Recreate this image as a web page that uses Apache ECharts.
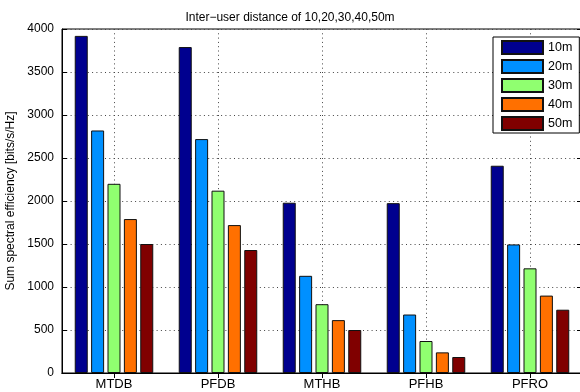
<!DOCTYPE html>
<html>
<head>
<meta charset="utf-8">
<script src="https://cdn.jsdelivr.net/npm/echarts@6/dist/echarts.min.js"></script>
<style>
  html, body { margin: 0; padding: 0; background: #fff; }
  #chart { width: 580px; height: 392px; }
</style>
</head>
<body>
<div id="chart"></div>
<script>
// Beamforming schemes on the x axis
const categories = ['MTDB', 'PFDB', 'MTHB', 'PFHB', 'PFRO'];
// Sum spectral efficiency [bits/s/Hz] per inter-user distance
const names = ['10m', '20m', '30m', '40m', '50m'];
const d10 = [3920, 3790, 1980, 1975, 2410];
const d20 = [2820, 2720, 1130, 680, 1495];
const d30 = [2200, 2120, 800, 372, 1217];
const d40 = [1790, 1720, 615, 240, 900];
const d50 = [1500, 1430, 500, 186, 736];
const yTicks = [0, 500, 1000, 1500, 2000, 2500, 3000, 3500, 4000];

const colors = ['#00008f', '#0090ff', '#90ff70', '#ff7000', '#800000'];
const values = [d10, d20, d30, d40, d50];
const font = 'Liberation Sans, Arial, Helvetica, sans-serif';

const dotted = { color: '#444', width: 1, type: [1, 3.3] };

const chart = echarts.init(document.getElementById('chart'), null, { renderer: 'canvas' });

const series = names.map((n, i) => ({
  name: n,
  type: 'bar',
  data: values[i],
  barWidth: 13,
  barGap: '26%',
  itemStyle: { color: colors[i], borderColor: '#111', borderWidth: 1 },
  z: 3
}));

chart.setOption({
  animation: false,
  backgroundColor: '#fff',
  title: {
    text: 'Inter\u2212user distance of 10,20,30,40,50m',
    left: 'center',
    top: 7,
    textStyle: { fontFamily: font, fontSize: 12, fontWeight: 'normal', color: '#000' }
  },
  legend: {
    orient: 'vertical',
    left: 493,
    top: 37,
    padding: [3, 7, 2, 8],
    itemWidth: 41,
    itemHeight: 13,
    itemGap: 4,
    icon: 'rect',
    backgroundColor: '#fff',
    borderColor: '#000',
    borderWidth: 1,
    textStyle: { fontFamily: font, fontSize: 12.5, color: '#000' },
    data: names
  },
  grid: {
    left: 62, top: 29, width: 520, height: 344,
    outerBoundsMode: 'none',
    containLabel: false,
    show: true, borderColor: '#000', borderWidth: 1, backgroundColor: '#fff'
  },
  xAxis: [{
    type: 'category',
    data: categories,
    position: 'bottom',
    axisLine: { show: true, lineStyle: { color: '#000' } },
    axisTick: { show: true, inside: true, length: 5, alignWithLabel: true, lineStyle: { color: '#000' } },
    axisLabel: { fontFamily: font, fontSize: 13, color: '#000', margin: 5 },
    splitLine: { show: true, alignWithLabel: true, lineStyle: dotted }
  }, {
    type: 'category',
    data: categories,
    position: 'top',
    axisLine: { show: true, lineStyle: { color: '#000' } },
    axisTick: { show: true, inside: true, length: 5, alignWithLabel: true, lineStyle: { color: '#000' } },
    axisLabel: { show: false },
    splitLine: { show: false }
  }],
  yAxis: [{
    type: 'value',
    min: yTicks[0],
    max: yTicks[yTicks.length - 1],
    interval: yTicks[1] - yTicks[0],
    position: 'left',
    name: 'Sum spectral efficiency [bits/s/Hz]',
    nameLocation: 'middle',
    nameGap: 38,
    nameTextStyle: { fontFamily: font, fontSize: 12, color: '#000' },
    axisLine: { show: true, lineStyle: { color: '#000' } },
    axisTick: { show: true, inside: true, length: 5, lineStyle: { color: '#000' } },
    axisLabel: { fontFamily: font, fontSize: 12, color: '#000', margin: 8, formatter: v => String(v) },
    splitLine: { show: true, lineStyle: dotted }
  }, {
    type: 'value',
    min: yTicks[0],
    max: yTicks[yTicks.length - 1],
    interval: yTicks[1] - yTicks[0],
    position: 'right',
    axisLine: { show: true, lineStyle: { color: '#000' } },
    axisTick: { show: true, inside: true, length: 5, lineStyle: { color: '#000' } },
    axisLabel: { show: false },
    splitLine: { show: false }
  }],
  series: series
});
</script>
</body>
</html>
